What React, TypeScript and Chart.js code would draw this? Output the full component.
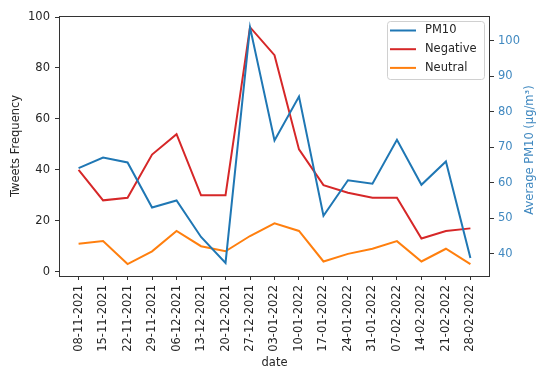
import React, { useEffect, useRef } from "react";
import { Chart, registerables } from "chart.js";

Chart.register(...registerables);

const dates = [
  "08-11-2021", "15-11-2021", "22-11-2021", "29-11-2021", "06-12-2021",
  "13-12-2021", "20-12-2021", "27-12-2021", "03-01-2022", "10-01-2022",
  "17-01-2022", "24-01-2022", "31-01-2022", "07-02-2022", "14-02-2022",
  "21-02-2022", "28-02-2022",
];

// Average PM10 per week (µg/m³), right axis
const pm10 = [64.1, 67.1, 65.7, 53.0, 55.0, 44.7, 37.4, 103.8, 71.9, 84.3, 50.7, 60.7, 59.7, 72.1, 59.4, 66.0, 38.8];
// Tweet counts per week, left axis
const negative = [40, 28, 29, 46, 54, 30, 30, 96, 85, 48, 34, 31, 29, 29, 13, 16, 17];
const neutral = [11, 12, 3, 8, 16, 10, 8, 14, 19, 16, 4, 7, 9, 12, 4, 9, 3];

const leftTicks = [0, 20, 40, 60, 80, 100];
const rightTicks = [40, 50, 60, 70, 80, 90, 100];

const BLUE = "#1f77b4";
const RED = "#d62728";
const ORANGE = "#ff7f0e";
const INK = "#262626";
const AXIS_BLUE = "#4189c0";
const FONT = "DejaVu Sans";
const FS = 11.5;

const toPoints = (vals: number[]) => vals.map((v, i) => ({ x: i, y: v }));

const framePlugin = {
  id: "frameAndText",
  afterDraw(chart: any) {
    const { ctx, chartArea } = chart;
    const { left, right, top, bottom } = chartArea;
    ctx.save();
    // plot frame
    ctx.strokeStyle = "#333";
    ctx.lineWidth = 1;
    ctx.strokeRect(left + 0.5, top + 0.5, right - left - 1, bottom - top);

    // axis titles
    ctx.font = `${FS}px "${FONT}"`;
    ctx.textAlign = "center";
    ctx.textBaseline = "middle";
    const midY = (top + bottom) / 2;

    ctx.fillStyle = INK;
    ctx.save();
    ctx.translate(16, midY);
    ctx.rotate(-Math.PI / 2);
    ctx.fillText("Tweets Frequency", 0, 0);
    ctx.restore();

    ctx.fillStyle = AXIS_BLUE;
    ctx.save();
    ctx.translate(530, midY + 4);
    ctx.rotate(-Math.PI / 2);
    ctx.fillText("Average PM10 (µg/m³)", 0, 0);
    ctx.restore();

    ctx.fillStyle = INK;
    ctx.fillText("date", (left + right) / 2, 363);

    // legend
    const bx = 387, by = 21, bw = 97, bh = 58;
    ctx.fillStyle = "rgba(255,255,255,0.85)";
    ctx.strokeStyle = "#d0d0d0";
    ctx.lineWidth = 1;
    ctx.beginPath();
    ctx.roundRect(bx + 0.5, by + 0.5, bw, bh, 3);
    ctx.fill();
    ctx.stroke();
    ctx.textAlign = "left";
    chart.data.datasets.forEach((ds: any, i: number) => {
      const y = by + 9.5 + i * 18.7;
      ctx.strokeStyle = ds.borderColor;
      ctx.lineWidth = 2;
      ctx.beginPath();
      ctx.moveTo(bx + 3, y);
      ctx.lineTo(bx + 29, y);
      ctx.stroke();
      ctx.fillStyle = INK;
      ctx.fillText(ds.label, bx + 38, y);
    });
    ctx.restore();
  },
};

export default function App() {
  const canvasRef = useRef<HTMLCanvasElement | null>(null);

  useEffect(() => {
    if (!canvasRef.current) return;
    const tickFont = { family: FONT, size: FS };
    const chart = new Chart(canvasRef.current, {
      type: "line",
      data: {
        datasets: [
          { label: "PM10", data: toPoints(pm10), borderColor: BLUE, yAxisID: "y1" },
          { label: "Negative", data: toPoints(negative), borderColor: RED, yAxisID: "y" },
          { label: "Neutral", data: toPoints(neutral), borderColor: ORANGE, yAxisID: "y" },
        ],
      },
      options: {
        responsive: false,
        animation: false,
        events: [],
        layout: { padding: { top: 16, left: 0, right: 0, bottom: 0 } },
        elements: {
          line: { borderWidth: 2, tension: 0, fill: false },
          point: { radius: 0 },
        },
        plugins: { legend: { display: false }, tooltip: { enabled: false } },
        scales: {
          x: {
            type: "linear",
            min: -0.8,
            max: 16.8,
            afterBuildTicks: (s: any) => {
              s.ticks = dates.map((_, i) => ({ value: i }));
            },
            afterFit: (s: any) => {
              s.height = 91;
            },
            ticks: {
              autoSkip: false,
              minRotation: 90,
              maxRotation: 90,
              padding: 5,
              color: INK,
              font: tickFont,
              callback: (v: any) => dates[v as number] ?? "",
            },
            grid: { drawOnChartArea: false, tickLength: 4, tickColor: "#333" },
            border: { display: false },
          },
          y: {
            position: "left",
            min: -1.7,
            max: 100.4,
            afterBuildTicks: (s: any) => {
              s.ticks = leftTicks.map((v) => ({ value: v }));
            },
            afterFit: (s: any) => {
              s.width = 59;
            },
            ticks: { color: INK, font: tickFont, padding: 5 },
            grid: { drawOnChartArea: false, tickLength: 4, tickColor: "#333" },
            border: { display: false },
          },
          y1: {
            position: "right",
            min: 33.7,
            max: 107.0,
            afterBuildTicks: (s: any) => {
              s.ticks = rightTicks.map((v) => ({ value: v }));
            },
            afterFit: (s: any) => {
              s.width = 46;
            },
            ticks: { color: AXIS_BLUE, font: tickFont, padding: 4 },
            grid: { drawOnChartArea: false, tickLength: 4, tickColor: "#333" },
            border: { display: false },
          },
        },
      },
      plugins: [framePlugin],
    } as any);
    return () => chart.destroy();
  }, []);

  return (
    <div style={{ position: "fixed", left: 0, top: 0, width: 536, height: 367, background: "#fff" }}>
      <canvas ref={canvasRef} width={536} height={367} style={{ display: "block" }} />
    </div>
  );
}
